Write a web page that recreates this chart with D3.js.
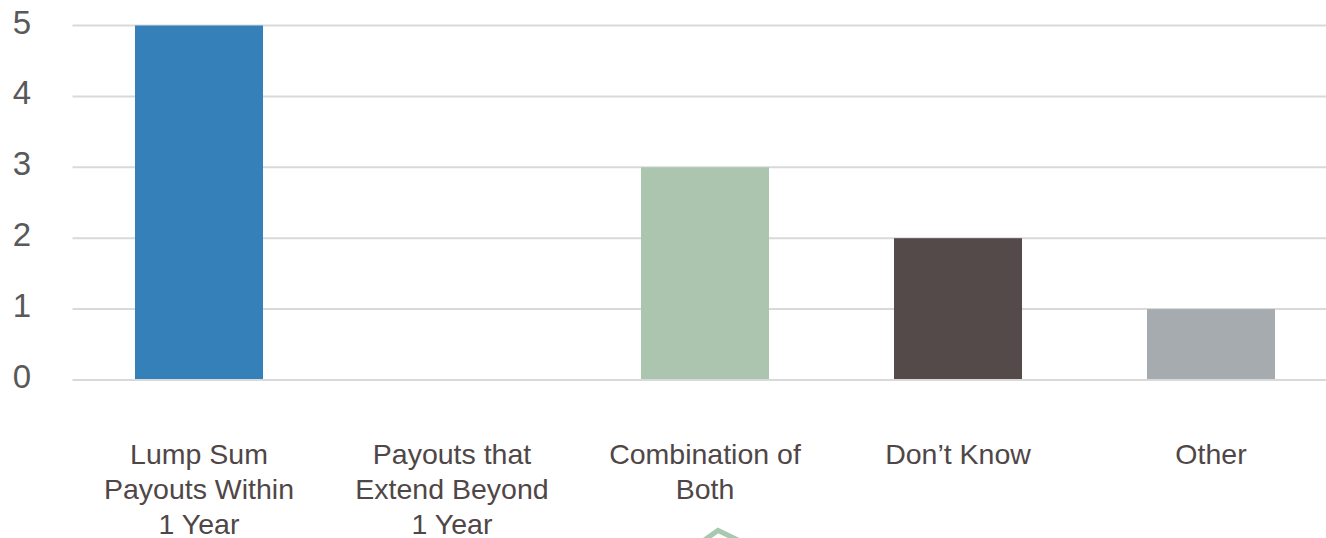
<!DOCTYPE html>
<html>
<head>
<meta charset="utf-8">
<script src="https://cdn.jsdelivr.net/npm/d3@7"></script>
<style>
  html, body { margin: 0; padding: 0; background: #ffffff; }
  svg { display: block; font-family: "Liberation Sans", Arial, sans-serif; }
</style>
</head>
<body>
<svg id="chart" width="1326" height="538"></svg>
<script>
// Survey responses: preferred payout structure
const categories = [
  "Lump Sum Payouts Within 1 Year",
  "Payouts that Extend Beyond 1 Year",
  "Combination of Both",
  "Don\u2019t Know",
  "Other"
];
const counts = [5, 0, 3, 2, 1];
const barColors = ["#3580b9", "#3580b9", "#abc5ae", "#544a49", "#a6abaf"];
const yTicks = [0, 1, 2, 3, 4, 5];

const svg = d3.select("#chart");
const W = 1326, H = 538;

const x = d3.scaleBand()
  .domain(categories)
  .range([72.5, 1337.5])
  .paddingInner(0.494)
  .paddingOuter(0.247);

const y = d3.scaleLinear()
  .domain([0, 5])
  .range([380, 25.5]);

// Horizontal gridlines
svg.append("g")
  .selectAll("line")
  .data(yTicks)
  .join("line")
  .attr("x1", 72.5)
  .attr("x2", W)
  .attr("y1", d => y(d))
  .attr("y2", d => y(d))
  .attr("stroke", "#d9d9d9")
  .attr("stroke-width", 2);

// Value axis labels
svg.append("g")
  .selectAll("text")
  .data(yTicks)
  .join("text")
  .attr("x", 31)
  .attr("y", d => y(d) + 8)
  .attr("text-anchor", "end")
  .attr("font-size", 33)
  .attr("fill", "#595959")
  .text(d => d);

// Bars
svg.append("g")
  .selectAll("rect")
  .data(categories)
  .join("rect")
  .attr("x", d => x(d))
  .attr("width", x.bandwidth())
  .attr("y", (d, i) => y(counts[i]))
  .attr("height", (d, i) => y(0) - y(counts[i]) - 1)
  .attr("fill", (d, i) => barColors[i]);

// Category labels, wrapped to fit under each bar
const maxLabelWidth = 205;
const labelG = svg.append("g");
categories.forEach(cat => {
  const cx = x(cat) + x.bandwidth() / 2;
  const t = labelG.append("text")
    .attr("text-anchor", "middle")
    .attr("font-size", 28.5)
    .attr("fill", "#4f4747");
  const words = cat.split(" ");
  let lines = [];
  let current = [];
  const probe = labelG.append("text").attr("font-size", 28.5);
  words.forEach(w => {
    const trial = current.concat([w]).join(" ");
    probe.text(trial);
    if (probe.node().getComputedTextLength() > maxLabelWidth && current.length) {
      lines.push(current.join(" "));
      current = [w];
    } else {
      current.push(w);
    }
  });
  lines.push(current.join(" "));
  probe.remove();
  lines.forEach((ln, i) => {
    t.append("tspan")
      .attr("x", cx)
      .attr("y", 464 + i * 35)
      .text(ln);
  });
});

// Decorative chevron at the lower edge
svg.append("path")
  .attr("d", d3.line()([[703, 541], [718, 530.5], [740, 541]]))
  .attr("fill", "none")
  .attr("stroke", "#a9c8b0")
  .attr("stroke-width", 5);
</script>
</body>
</html>
